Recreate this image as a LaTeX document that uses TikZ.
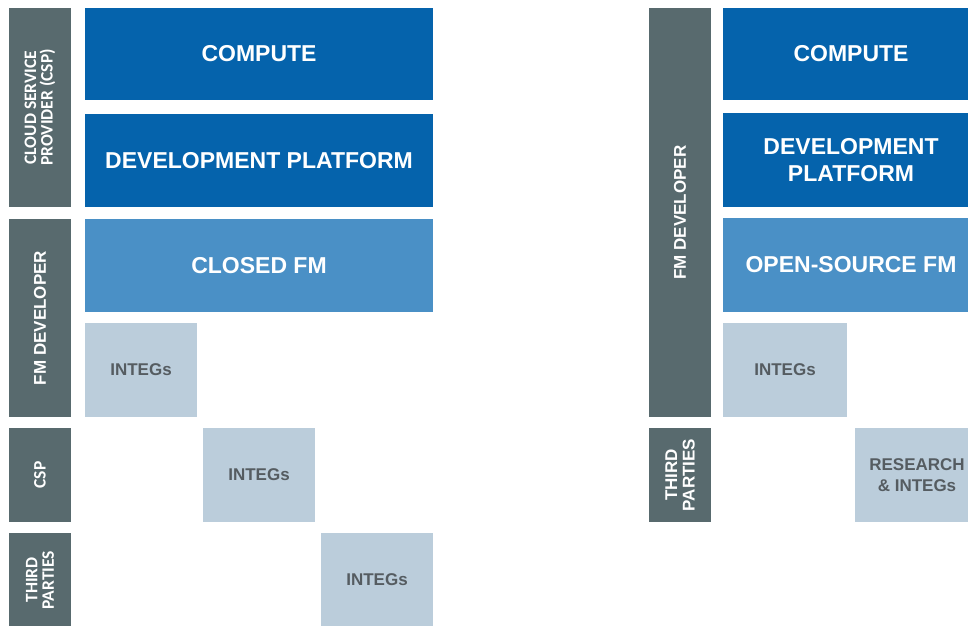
\documentclass[tikz,border=0pt]{standalone}
\usepackage{fontspec}
\setmainfont{Liberation Sans}
\newfontfamily\lblfont{Carlito}
\definecolor{dkblue}{RGB}{5,99,172}
\definecolor{mdblue}{RGB}{74,144,198}
\definecolor{ltblue}{RGB}{187,205,219}
\definecolor{bargray}{RGB}{88,106,110}
\definecolor{txtgray}{RGB}{85,92,97}
\tikzset{
  blk/.style={draw=none, inner sep=0pt, outer sep=0pt, align=center, font=\bfseries\fontsize{23}{27}\selectfont, text=white},
  dk/.style={blk, fill=dkblue},
  md/.style={blk, fill=mdblue},
  lt/.style={blk, fill=ltblue, text=txtgray, font=\bfseries\fontsize{17}{21}\selectfont},
  lbase/.style={draw=none, inner sep=0pt, outer sep=0pt, align=center, fill=bargray, text=white, rotate=90},
  lbl/.style={lbase, font=\lblfont\bfseries\fontsize{17.5}{16.5}\selectfont},
  lblr/.style={lbase, font=\rmfamily\bfseries\fontsize{17}{17.5}\selectfont},
}
\newcommand{\boxat}[6]{% style, name, x1, y1, x2, y2 (text follows)
  \node[#1, minimum width={(#5-#3)*1pt}, minimum height={(#6-#4)*1pt}] (#2) at ({(#3+#5)/2},{(#4+#6)/2})}
\newcommand{\barat}[6]{%
  \node[#1, minimum width={(#6-#4)*1pt}, minimum height={(#5-#3)*1pt}] (#2) at ({(#3+#5)/2},{(#4+#6)/2})}
\begin{document}
\begin{tikzpicture}[x=1pt,y=-1pt]
\useasboundingbox (0,0) rectangle (968,625);
% left stack
\barat{lbl}{lcsp}{9}{8}{71}{207} {CLOUD SERVICE\\PROVIDER (CSP)};
\boxat{dk}{lcompute}{85}{8}{433}{100} {COMPUTE};
\boxat{dk}{ldev}{85}{114}{433}{207} {DEVELOPMENT PLATFORM};
\barat{lblr}{lfm}{9}{219}{71}{417} {FM DEVELOPER};
\boxat{md}{lclosed}{85}{219}{433}{312} {CLOSED FM};
\boxat{lt}{lint1}{85}{323}{197}{417} {INTEGs};
\barat{lbl}{lcsp2}{9}{428}{71}{522} {CSP};
\boxat{lt}{lint2}{203}{428}{315}{522} {INTEGs};
\barat{lbl}{ltp}{9}{533}{71}{627} {THIRD\\PARTIES};
\boxat{lt}{lint3}{321}{533}{433}{627} {INTEGs};
% right stack
\barat{lblr}{rfm}{649}{8}{711}{417} {FM DEVELOPER};
\boxat{dk}{rcompute}{723}{8}{979}{100} {COMPUTE};
\boxat{dk}{rdev}{723}{113}{979}{207} {DEVELOPMENT\\PLATFORM};
\boxat{md}{ropen}{723}{218}{979}{312} {OPEN-SOURCE FM};
\boxat{lt}{rint}{723}{323}{847}{417} {INTEGs};
\barat{lblr}{rtp}{649}{428}{711}{522} {THIRD\\PARTIES};
\boxat{lt}{rres}{855}{428}{979}{522} {RESEARCH\\\& INTEGs};
\end{tikzpicture}
\end{document}
